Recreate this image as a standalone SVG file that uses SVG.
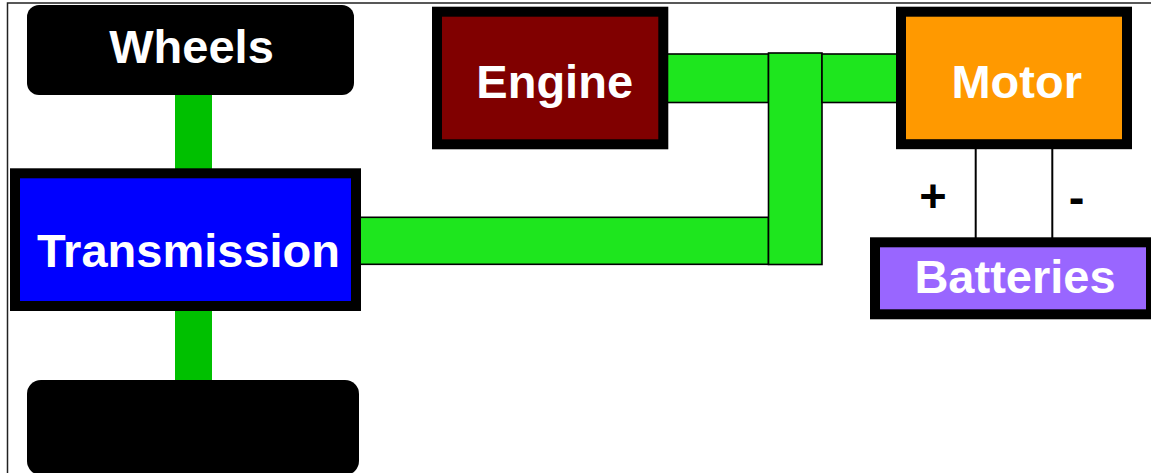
<svg xmlns="http://www.w3.org/2000/svg" width="1151" height="473" viewBox="0 0 1151 473">
  <style>
    .lbl { font-family: "Liberation Sans", Arial, sans-serif; font-weight: bold; font-size: 47px; fill: #ffffff; text-anchor: middle; }
    .sign { font-family: "Liberation Sans", Arial, sans-serif; font-weight: bold; font-size: 47px; fill: #000000; text-anchor: middle; }
    .box { stroke: #000000; stroke-width: 10; }
    .shaft { fill: #1ee61e; stroke: #000000; stroke-width: 1.6; }
    .axle { fill: #00c000; }
    .wire { stroke: #000000; stroke-width: 2; fill: none; }
  </style>

  <rect x="0" y="0" width="1151" height="473" fill="#ffffff"/>
  <!-- frame -->
  <path d="M7.5 473 V3 H1151" fill="none" stroke="#222222" stroke-width="1.5"/>

  <!-- connectors -->
  <g id="connectors">
    <rect class="axle" x="175" y="94" width="37" height="76"/>
    <rect class="axle" x="175" y="309" width="37" height="73"/>
    <rect class="shaft" x="360" y="217.3" width="408.5" height="47"/>
    <rect class="shaft" x="666" y="54" width="102.5" height="48.5"/>
    <rect class="shaft" x="768.5" y="53" width="53.5" height="211.5"/>
    <rect class="shaft" x="822" y="54" width="76" height="48.5"/>
    <line class="wire" x1="975.7" y1="148" x2="975.7" y2="238"/>
    <line class="wire" x1="1052.3" y1="148" x2="1052.3" y2="238"/>
    <text class="sign" x="933" y="212">+</text>
    <text class="sign" x="1076.5" y="212.5">-</text>
  </g>

  <g id="wheels-top">
    <rect x="27" y="5" width="327" height="90" rx="12" fill="#000000"/>
    <text class="lbl" x="191.5" y="63">Wheels</text>
  </g>

  <g id="wheels-bottom">
    <rect x="27" y="380" width="332" height="95" rx="14" fill="#000000"/>
  </g>

  <g id="transmission">
    <rect class="box" x="15" y="173.3" width="341" height="132.7" fill="#0000ff"/>
    <text class="lbl" x="188.5" y="266.7">Transmission</text>
  </g>

  <g id="engine">
    <rect class="box" x="437" y="11.7" width="226.3" height="132.6" fill="#800000"/>
    <text class="lbl" x="554.7" y="97.7">Engine</text>
  </g>

  <g id="motor">
    <rect class="box" x="901" y="11.7" width="226" height="132.5" fill="#ff9900"/>
    <text class="lbl" x="1016.7" y="97.7">Motor</text>
  </g>

  <g id="batteries">
    <rect class="box" x="875" y="242.3" width="276" height="72" fill="#9966ff"/>
    <text class="lbl" x="1015" y="293.3">Batteries</text>
  </g>
</svg>
